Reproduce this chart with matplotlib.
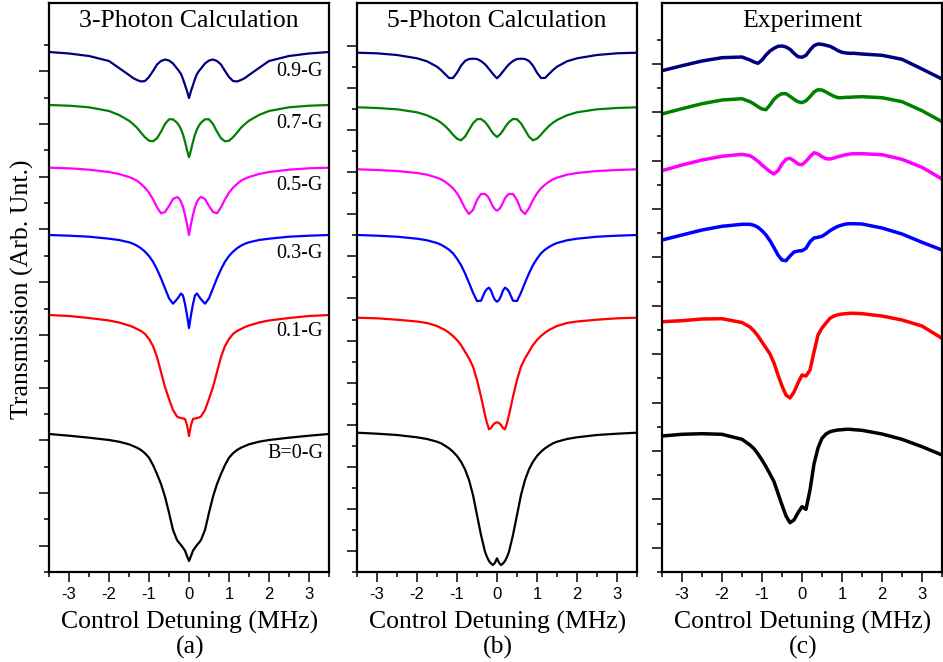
import numpy as np
import matplotlib
matplotlib.use("Agg")
import matplotlib.pyplot as plt

plt.rcParams['axes.unicode_minus'] = False

# detuning grid (MHz) used for the two calculated panels
x_calc = [-3.5, -3.0, -2.5, -2.0, -1.75, -1.5, -1.4, -1.3, -1.2, -1.1, -1.0, -0.9,
          -0.8, -0.7, -0.6, -0.5, -0.4, -0.3, -0.25, -0.2, -0.15, -0.1, -0.05, 0.0,
          0.05, 0.1, 0.15, 0.2, 0.25, 0.3, 0.4, 0.5, 0.6, 0.7, 0.8, 0.9, 1.0, 1.1,
          1.2, 1.3, 1.4, 1.5, 1.75, 2.0, 2.5, 3.0, 3.5]

# detuning grid (MHz) for the experimental panel
x_exp = [-3.5, -3.0, -2.5, -2.0, -1.5, -1.3, -1.2, -1.1, -1.0, -0.9, -0.8, -0.7,
         -0.6, -0.5, -0.4, -0.3, -0.2, -0.1, 0.0, 0.1, 0.2, 0.3, 0.4, 0.5, 0.6,
         0.7, 0.8, 0.9, 1.0, 1.1, 1.2, 1.3, 1.5, 2.0, 2.5, 3.0, 3.5]

labels = ["0.9-G", "0.7-G", "0.5-G", "0.3-G", "0.1-G", "B=0-G"]
colors = ["#000080", "#008000", "#ff00ff", "#0000ff", "#ff0000", "#000000"]

# (a) 3-photon calculation, offset transmission (arb. units)
a09 = [520, 518.5, 516, 511, 504, 497, 494, 492, 490.5, 491, 495, 501, 507.5, 511, 512.5, 511.5, 508.5, 503.5, 501, 498, 493, 487, 481,
       474,
       481, 487, 493, 498, 501, 503.5, 508.5, 511.5, 512.5, 511, 507.5, 501, 495, 491, 490.5, 492, 494, 497, 504, 511, 516, 518.5, 520]
a07 = [467, 466.3, 464.7, 461, 457, 451.3, 448, 444.3, 439.3, 434.7, 431.3, 430.7, 433.7, 440.3, 448, 452.7, 452.7, 449.3, 446.5, 442.7, 437.5, 430.3, 422,
       414.7,
       422, 430.3, 437.5, 442.7, 446.5, 449.3, 452.7, 452.7, 448, 440.3, 433.7, 430.7, 431.3, 434.7, 439.3, 444.3, 448, 451.3, 457, 461, 464.7, 466.3, 467]
a05 = [404.3, 403.7, 402.3, 400, 398, 395, 393.3, 391.3, 388, 384.3, 379.3, 372.7, 364.7, 358.7, 360, 366, 373, 375, 373.5, 370.3, 365, 357, 348,
       337,
       348, 357, 365, 370.3, 373.5, 375, 373, 366, 360, 358.7, 364.7, 372.7, 379.3, 384.3, 388, 391.3, 393.3, 395, 398, 400, 402.3, 403.7, 404.3]
a03 = [337, 336.3, 335.3, 333.3, 332, 329.7, 328.3, 326.3, 323.7, 320.3, 316, 310.3, 302.7, 293.7, 283.7, 273.7, 268.3, 272.7, 275.5, 278.5, 276.5, 268, 257,
       244,
       257, 268, 276.5, 278.5, 275.5, 272.7, 268.3, 273.7, 283.7, 293.7, 302.7, 310.3, 316, 320.3, 323.7, 326.3, 328.3, 329.7, 332, 333.3, 335.3, 336.3, 337]
a01 = [257, 256, 254, 251.5, 249.5, 246.5, 245, 243, 241, 238, 233, 226, 215, 200, 185, 173, 162, 155.5, 154.5, 154, 153.5, 153, 147,
       136,
       147, 153, 153.5, 154, 154.5, 155.5, 162, 173, 185, 200, 215, 226, 233, 238, 241, 243, 245, 246.5, 249.5, 251.5, 254, 256, 257]
a00 = [138, 136.3, 134.3, 132, 130.3, 127.7, 126, 124.3, 122, 118.7, 114.3, 107, 98, 88, 75.3, 59.3, 42, 32, 29.3, 27, 24.3, 21.3, 16,
       11,
       16, 21.3, 24.3, 27, 29.3, 32, 42, 59.3, 75.3, 88, 98, 107, 114.3, 118.7, 122, 124.3, 126, 127.7, 130.3, 132, 134.3, 136.3, 138]

# (b) 5-photon calculation
b09 = [519.3, 518.7, 517, 513.7, 510.7, 505.3, 502, 498, 494, 494, 499.3, 506.3, 511, 513, 513.3, 513, 511, 507.7, 505.5, 503, 500.5, 498, 495.7,
       493.7,
       495.7, 498, 500.5, 503, 505.5, 507.7, 511, 513, 513.3, 513, 511, 506.3, 499.3, 494, 494, 498, 502, 505.3, 510.7, 513.7, 517, 518.7, 519.3]
b07 = [464.7, 464, 462.7, 459.7, 456.7, 452, 449.3, 446, 442, 437.3, 433.3, 431.7, 435.3, 442, 448.7, 452.7, 453, 450, 447.5, 444.7, 441.5, 438.7, 436.7,
       435,
       436.7, 438.7, 441.5, 444.7, 447.5, 450, 453, 452.7, 448.7, 442, 435.3, 431.7, 433.3, 437.3, 442, 446, 449.3, 452, 456.7, 459.7, 462.7, 464, 464.7]
b05 = [402.7, 402, 401, 399, 397.3, 394.3, 392.7, 390.3, 387.3, 383.7, 378.7, 372, 363.7, 358, 362, 372, 378, 378, 376.3, 373.7, 369.5, 365.3, 362.7,
       361.3,
       362.7, 365.3, 369.5, 373.7, 376.3, 378, 378, 372, 362, 358, 363.7, 372, 378.7, 383.7, 387.3, 390.3, 392.7, 394.3, 397.3, 399, 401, 402, 402.7]
b03 = [337, 336.3, 335.3, 333.3, 331.7, 329, 327.3, 325, 322.3, 318.7, 313.3, 307, 298.7, 289.3, 279.3, 271, 271.3, 280.3, 283, 284.3, 281.5, 276, 272,
       270.3,
       272, 276, 281.5, 284.3, 283, 280.3, 271.3, 271, 279.3, 289.3, 298.7, 307, 313.3, 318.7, 322.3, 325, 327.3, 329, 331.7, 333.3, 335.3, 336.3, 337]
b01 = [254.3, 253.7, 252.3, 250.5, 249, 246, 244, 242, 239.3, 236, 232, 227, 220.3, 213.7, 205.3, 192, 175.3, 157, 149, 142.7, 144, 147, 149,
       149.7,
       149, 147, 144, 142.7, 149, 157, 175.3, 192, 205.3, 213.7, 220.3, 227, 232, 236, 239.3, 242, 244, 246, 249, 250.5, 252.3, 253.7, 254.3]
b00 = [139.3, 138.3, 137, 134.7, 133, 130.3, 128.7, 126.3, 123.7, 120.3, 116, 110.3, 102.7, 92, 77, 57, 37, 20.3, 15, 11, 8.5, 7, 9.3,
       13.7,
       9.3, 7, 8.5, 11, 15, 20.3, 37, 57, 77, 92, 102.7, 110.3, 116, 120.3, 123.7, 126.3, 128.7, 130.3, 133, 134.7, 137, 138.3, 139.3]

# (c) experiment
c09 = [501.3, 506.3, 511, 514.3, 515, 512, 510, 508.7, 512, 517, 521, 523.7, 525.7, 526, 525, 522.7, 518.7, 515.3, 514.7,
       516.7, 522, 526.3, 528, 527.7, 526.7, 525.7, 523.7, 521.3, 519.7, 519, 518.7, 518.7, 518, 516.7, 512.7, 503, 493]
c07 = [458, 463.3, 468.3, 472, 473.3, 470.3, 468, 465.3, 463, 462.3, 467, 472.7, 476.3, 478.3, 478.3, 475.7, 472.7, 470.3, 469.3,
       471.3, 475.3, 480, 482.3, 482, 480, 477.7, 475.7, 474.3, 474.3, 474.7, 474.7, 475, 475.3, 474.3, 470.3, 461.3, 450.3]
c05 = [401.3, 407, 412, 415.7, 417.7, 416.3, 413.7, 410.7, 407, 403.7, 400.3, 398, 401.3, 408, 412.7, 413.7, 411.3, 408, 407.3,
       410.7, 415.3, 419.3, 418, 415.3, 413.3, 413, 414, 415.3, 416.3, 417.3, 418, 418.3, 418.3, 417.3, 412.7, 404.7, 393]
c03 = [332, 337, 342, 345.7, 347.7, 347.7, 346.7, 344.7, 341.3, 337, 331.3, 324.3, 317, 312, 311.3, 316, 320, 321, 321.3,
       323.7, 330.3, 334, 334.7, 335.7, 338.3, 341.3, 343.7, 345.7, 347, 348, 348.3, 348.3, 348, 344, 338, 329.7, 322]
c01 = [250.3, 251.3, 253, 253.3, 249.5, 245, 241, 236, 230, 224, 218, 209, 197, 186, 177, 174, 180, 189, 197,
       196, 202, 220, 237, 244, 249, 253.7, 256, 257.3, 258, 258.3, 258.7, 258.7, 258.3, 256, 252, 246, 233.7]
c00 = [136, 137.7, 138.3, 137.7, 132.7, 127, 123.3, 118, 112, 105.3, 98, 90.3, 78.7, 67, 56, 49.3, 52, 59.3, 65.3,
       62.7, 82, 108, 124, 133.7, 138, 140.3, 141.3, 142, 142.3, 142.7, 142.7, 142.3, 141.7, 138, 132.7, 125.3, 117]

W, H = 943, 662
SERIF = "Liberation Serif"
SANS = "Liberation Sans"


def fx(px):
    return px / W


def fy(py):
    return 1 - py / H


fig = plt.figure(figsize=(W / 100, H / 100), dpi=100)

panels = [
    dict(left=49, series=[a09, a07, a05, a03, a01, a00], x=x_calc, lw=1.6, step=26.35, n=20,
         title="3-Photon Calculation", tag="(a)"),
    dict(left=357, series=[b09, b07, b05, b03, b01, b00], x=x_calc, lw=1.6, step=21.04, n=25,
         title="5-Photon Calculation", tag="(b)"),
    dict(left=662, series=[c09, c07, c05, c03, c01, c00], x=x_exp, lw=2.5, step=24.2, n=22,
         title="Experiment", tag="(c)"),
]

axes = []
for p in panels:
    ax = fig.add_axes([fx(p["left"]), fy(572), 280 / W, 569 / H])
    for ys, c in zip(p["series"], colors):
        ax.plot(p["x"], ys, color=c, lw=p["lw"], solid_joinstyle="round")
    ax.set_xlim(-3.5, 3.5)
    ax.set_ylim(0, 569)
    ax.set_xticks(range(-3, 4))
    ax.set_xticks(np.arange(-3.5, 3.6, 1.0), minor=True)
    ticks = [k * p["step"] for k in range(p["n"] + 1)]
    ax.set_yticks(ticks[1::2])
    ax.set_yticks(ticks[0::2], minor=True)
    ax.set_yticklabels([])
    ax.tick_params(which="major", direction="out", length=7, width=1.1,
                   labelsize=12, pad=4)
    ax.tick_params(which="minor", direction="out", length=3.5, width=1.1)
    for lab in ax.get_xticklabels():
        lab.set_fontfamily(SANS)
    for s in ax.spines.values():
        s.set_linewidth(1.6)
    cx = p["left"] + 140
    fig.text(fx(cx), fy(21), p["title"], family=SERIF, fontsize=18.5,
             ha="center", va="center")
    fig.text(fx(cx + 1), fy(622), "Control Detuning (MHz)", family=SERIF,
             fontsize=18.5, ha="center", va="center")
    fig.text(fx(cx + 1), fy(647), p["tag"], family=SERIF, fontsize=18.5,
             ha="center", va="center")
    axes.append(ax)

# curve labels in panel (a)
label_y = [72, 124, 186, 253, 331, 454]
for lab, py in zip(labels, label_y):
    fig.text(fx(323), fy(py), lab, family=SERIF, fontsize=14.5,
             ha="right", va="center")

fig.text(fx(22), fy(289), "Transmission (Arb. Unt.)", family=SERIF,
         fontsize=18.5, rotation=90, ha="center", va="center")

fig.savefig("out.png", dpi=100)
